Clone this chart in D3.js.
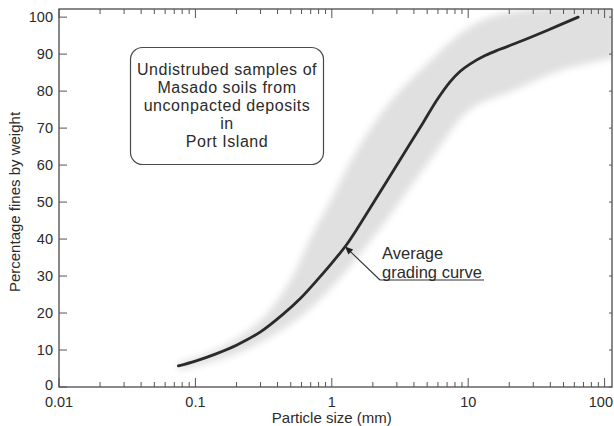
<!DOCTYPE html>
<html>
<head>
<meta charset="utf-8">
<script src="https://cdn.jsdelivr.net/npm/d3@7"></script>
<style>
  html, body { margin: 0; padding: 0; background: #fff; }
  svg { display: block; font-family: "Liberation Sans", Arial, sans-serif; }
</style>
</head>
<body>
<svg id="chart" width="614" height="426"></svg>
<script>
// Average grading curve (particle size in mm, percentage finer by weight)
const curveSize  = [0.075, 0.1, 0.14, 0.2, 0.3, 0.44, 0.59, 0.78, 1.0, 1.29, 1.61, 2.26, 3.16, 4.66, 5.9, 7.36, 8.7, 10.3, 13.3, 17.1, 24, 37.8, 64];
const curveFines = [5.7,   7.0, 8.9,  11.3, 14.9, 19.7, 24.0, 28.9, 33.5, 38.6, 44.0, 52.7, 61.4, 71.4, 77.6, 82.5, 85.3, 87.3, 89.6, 91.3, 93.4, 96.4, 100];

// Range of grading curves: finer (upper) and coarser (lower) limits
const upperSize  = [0.075, 0.15, 0.3, 0.5, 0.69, 1.0, 1.47, 2.66, 5.2, 9.1, 16, 120];
const upperFines = [6.5,   10.5, 18,  29,  40,   51,  63,   77,   88,  96,  100.5, 104];
const lowerSize  = [0.075, 0.2, 0.5, 1.0, 2.07, 5.68, 10.3, 21, 47, 120];
const lowerFines = [4.5,   9,   17,  27,  41,   63,   75,   80, 85.5, 89];

// Axis ticks
const xTickValues = [0.01, 0.1, 1, 10, 100];
const xTickLabels = ["0.01", "0.1", "1", "10", "100"];
const yTickValues = [0, 10, 20, 30, 40, 50, 60, 70, 80, 90, 100];

// Annotated point on the average curve
const noteSize = 1.25, noteFines = 38;
const noteLines = ["Average", "grading curve"];
const boxLines = ["Undistrubed samples of", "Masado soils from", "unconpacted deposits", "in", "Port Island"];

const svg = d3.select("#chart");
const L = 59, R = 612, T = 9, B = 387;

const x = d3.scaleLog().domain([0.01, 113.3]).range([L, R]);
const y = d3.scaleLinear().domain([0, 102.2]).range([B, T]);

const defs = svg.append("defs");
defs.append("clipPath").attr("id", "plotClip")
  .append("rect").attr("x", L).attr("y", T).attr("width", R - L).attr("height", B - T);
defs.append("filter").attr("id", "soft").attr("x", "-10%").attr("y", "-10%").attr("width", "120%").attr("height", "120%")
  .append("feGaussianBlur").attr("stdDeviation", 3.5);

// Shaded range band
const smooth = d3.line().x(d => x(d[0])).y(d => y(d[1])).curve(d3.curveCatmullRom.alpha(0.5));
const upperPts = upperSize.map((s, i) => [s, upperFines[i]]);
const lowerPts = lowerSize.map((s, i) => [s, lowerFines[i]]).reverse();
const bandPath = smooth(upperPts) + "L" + smooth(lowerPts).slice(1) + "Z";
svg.append("g").attr("clip-path", "url(#plotClip)")
  .append("path").attr("d", bandPath)
  .attr("fill", "#e0e0e0").attr("filter", "url(#soft)");

// Average curve
const avgPts = curveSize.map((s, i) => [s, curveFines[i]]);
svg.append("path")
  .attr("d", smooth(avgPts))
  .attr("fill", "none").attr("stroke", "#2a2a2a").attr("stroke-width", 2.8)
  .attr("stroke-linecap", "round");

// Frame
svg.append("rect").attr("x", L).attr("y", T).attr("width", R - L).attr("height", B - T)
  .attr("fill", "none").attr("stroke", "#4a4a4a").attr("stroke-width", 1.3);

// Log ticks along bottom and top edges, linear ticks left and right
const minor = [];
for (let e = -2; e < 2; e++) for (let m = 2; m <= 9; m++) minor.push(m * Math.pow(10, e));
const tickG = svg.append("g").attr("stroke", "#555").attr("stroke-width", 1);
minor.forEach(v => {
  tickG.append("line").attr("x1", x(v)).attr("x2", x(v)).attr("y1", B).attr("y2", B - 5);
  tickG.append("line").attr("x1", x(v)).attr("x2", x(v)).attr("y1", T).attr("y2", T + 5);
});
xTickValues.forEach(v => {
  tickG.append("line").attr("x1", x(v)).attr("x2", x(v)).attr("y1", B).attr("y2", B - 9);
  tickG.append("line").attr("x1", x(v)).attr("x2", x(v)).attr("y1", T).attr("y2", T + 9);
});
yTickValues.forEach(v => {
  tickG.append("line").attr("x1", L).attr("x2", L + 8).attr("y1", y(v)).attr("y2", y(v));
  tickG.append("line").attr("x1", R).attr("x2", R - 3).attr("y1", y(v)).attr("y2", y(v));
});

// Tick labels
const labG = svg.append("g").attr("fill", "#2b2b2b").attr("font-size", 14.5);
yTickValues.forEach(v => {
  labG.append("text").attr("x", L - 6).attr("y", v === 0 ? y(v) - 2 : y(v)).attr("dy", "0.35em")
    .attr("text-anchor", "end").text(v);
});
xTickValues.forEach((v, i) => {
  const last = i === xTickValues.length - 1;
  labG.append("text").attr("x", last ? 613 : x(v)).attr("y", B + 15).attr("dy", "0.35em")
    .attr("text-anchor", last ? "end" : "middle").text(xTickLabels[i]);
});

// Axis titles
svg.append("text").attr("x", (x(0.01) + x(100)) / 2).attr("y", 418).attr("dy", "0.35em")
  .attr("text-anchor", "middle").attr("font-size", 15).attr("fill", "#2b2b2b")
  .text("Particle size (mm)");
svg.append("text").attr("transform", `translate(15,${(T + B) / 2 + 4}) rotate(-90)`)
  .attr("dy", "0.35em").attr("text-anchor", "middle").attr("font-size", 15).attr("fill", "#2b2b2b")
  .text("Percentage fines by weight");

// Description box
svg.append("rect").attr("x", 130.5).attr("y", 47.5).attr("width", 193).attr("height", 117)
  .attr("rx", 12).attr("fill", "#fff").attr("stroke", "#4a4a4a").attr("stroke-width", 1.2);
boxLines.forEach((t, i) => {
  svg.append("text").attr("x", 227).attr("y", 69 + i * 18.2).attr("dy", "0.35em")
    .attr("text-anchor", "middle").attr("font-size", 16).attr("letter-spacing", 0.55)
    .attr("fill", "#2b2b2b").text(t);
});

// Annotation with leader and arrowhead
const ax = x(noteSize), ay = y(noteFines);
const tx = 380, ty = 280;
const ang = Math.atan2(ty - ay, tx - ax);
const ah = 8, aw = 3.5;
svg.append("line").attr("x1", ax).attr("y1", ay).attr("x2", tx).attr("y2", ty)
  .attr("stroke", "#333").attr("stroke-width", 1.1);
svg.append("path")
  .attr("d", `M${ax},${ay}` +
    `L${ax + ah * Math.cos(ang) - aw * Math.sin(ang)},${ay + ah * Math.sin(ang) + aw * Math.cos(ang)}` +
    `L${ax + ah * Math.cos(ang) + aw * Math.sin(ang)},${ay + ah * Math.sin(ang) - aw * Math.cos(ang)}Z`)
  .attr("fill", "#222");
noteLines.forEach((t, i) => {
  svg.append("text").attr("x", 382).attr("y", 253 + i * 19).attr("dy", "0.35em")
    .attr("font-size", 16.5).attr("fill", "#2b2b2b").text(t);
});
svg.append("line").attr("x1", tx).attr("x2", 484).attr("y1", ty).attr("y2", ty)
  .attr("stroke", "#333").attr("stroke-width", 1.1);
</script>
</body>
</html>
